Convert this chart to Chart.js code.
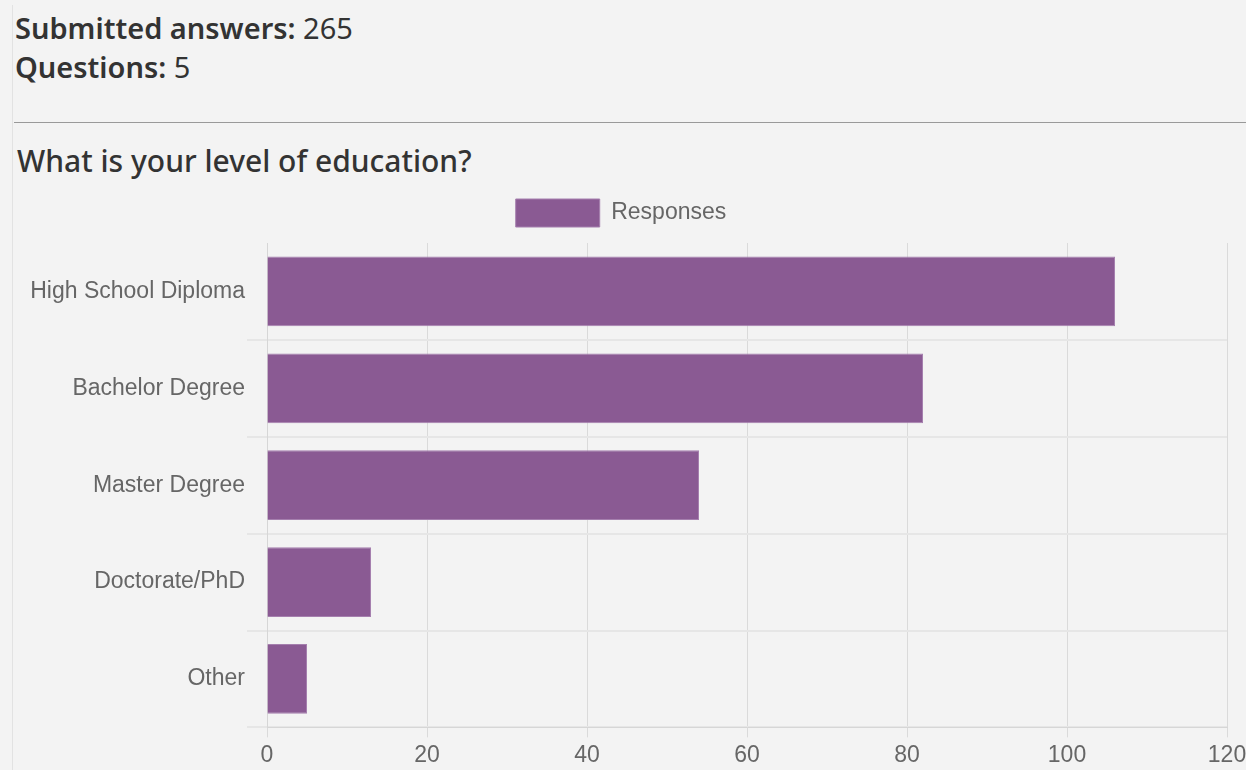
<!DOCTYPE html>
<html>
<head>
<meta charset="utf-8">
<script src="https://cdn.jsdelivr.net/npm/chart.js@4"></script>
<style>
  html, body { margin: 0; padding: 0; background: #f3f3f3; width: 1246px; height: 770px; overflow: hidden; }
  #page { position: absolute; left: 12px; top: 5px; right: 0; bottom: 0; border-left: 1px solid #e2e2e2; background: #f3f3f3; }
  .stat { position: absolute; left: 2px; font-family: "Noto Sans", "Open Sans", sans-serif; font-size: 29px; color: #333; white-space: nowrap; }
  .stat b { font-weight: 600; }
  #s1 { top: 3px; }
  #s2 { top: 42px; }
  #rule { position: absolute; left: 1px; right: 0; top: 117px; height: 0; border-top: 1px solid #999; }
  #title { position: absolute; left: 4px; top: 135px; font-family: "Noto Sans", "Open Sans", sans-serif; font-size: 30px; font-weight: 500; color: #333; white-space: nowrap; }
  #wrap { position: absolute; left: 0; top: 184px; width: 1234px; height: 584px; }
</style>
</head>
<body>
<div id="page">
  <div class="stat" id="s1"><b>Submitted answers:</b> 265</div>
  <div class="stat" id="s2"><b>Questions:</b> 5</div>
  <div id="rule"></div>
  <div id="title">What is your level of education?</div>
  <div id="wrap"><canvas id="myBarChart"></canvas></div>
</div>
<script>
var categories = ["High School Diploma", "Bachelor Degree", "Master Degree", "Doctorate/PhD", "Other"];
var responses = [106, 82, 54, 13, 5];
var seriesLabel = "Responses";

var tickFont = { family: "'Liberation Sans', Arial, sans-serif", size: 23 };

// extra space between the legend and the bars, legend a bit left of centre
var legendTweak = {
    id: 'legendTweak',
    beforeInit: function (chart) {
        var fit = chart.legend.fit;
        chart.legend.fit = function () {
            fit.call(this);
            this.height += 6;
        };
    },
    afterLayout: function (chart) {
        chart.legend.left -= 9;
        chart.legend.right -= 9;
    }
};

var ctx = document.getElementById("myBarChart");
var data = {
    labels: categories,
    datasets: [
        {
            label: seriesLabel,
            data: responses,
            backgroundColor: "#8a5a93",
            borderColor: "#a57fae",
            borderWidth: 1
        }]
};
var myBarChart = new Chart(ctx, {
    type: 'bar',
    data: data,
    plugins: [legendTweak],
    options: {
        indexAxis: 'y',
        responsive: true,
        maintainAspectRatio: false,
        animation: false,
        layout: { padding: { left: 0, right: 0, top: 0, bottom: 0 } },
        plugins: {
            legend: {
                display: true,
                labels: {
                    boxWidth: 84,
                    boxHeight: 28,
                    color: '#666',
                    padding: 10,
                    font: tickFont
                }
            },
            tooltip: { enabled: false }
        },
        scales: {
            x: {
                min: 0,
                max: 120,
                ticks: {
                    stepSize: 20,
                    color: '#666',
                    padding: 4,
                    font: tickFont
                },
                grid: { color: '#dadada', tickLength: 10 },
                border: { color: '#d6d6d6' },
                afterFit: function (scale) { scale.paddingRight = 20; scale.paddingLeft = 0; }
            },
            y: {
                ticks: {
                    color: '#666',
                    padding: 2,
                    font: tickFont
                },
                grid: {
                    tickLength: 20,
                    lineWidth: 2,
                    color: function (c) { return c.index === 0 ? 'rgba(0,0,0,0)' : '#e6e6e6'; }
                },
                border: { color: '#d6d6d6' },
                afterFit: function (scale) { scale.width = 254; }
            }
        }
    }
});
</script>
</body>
</html>
